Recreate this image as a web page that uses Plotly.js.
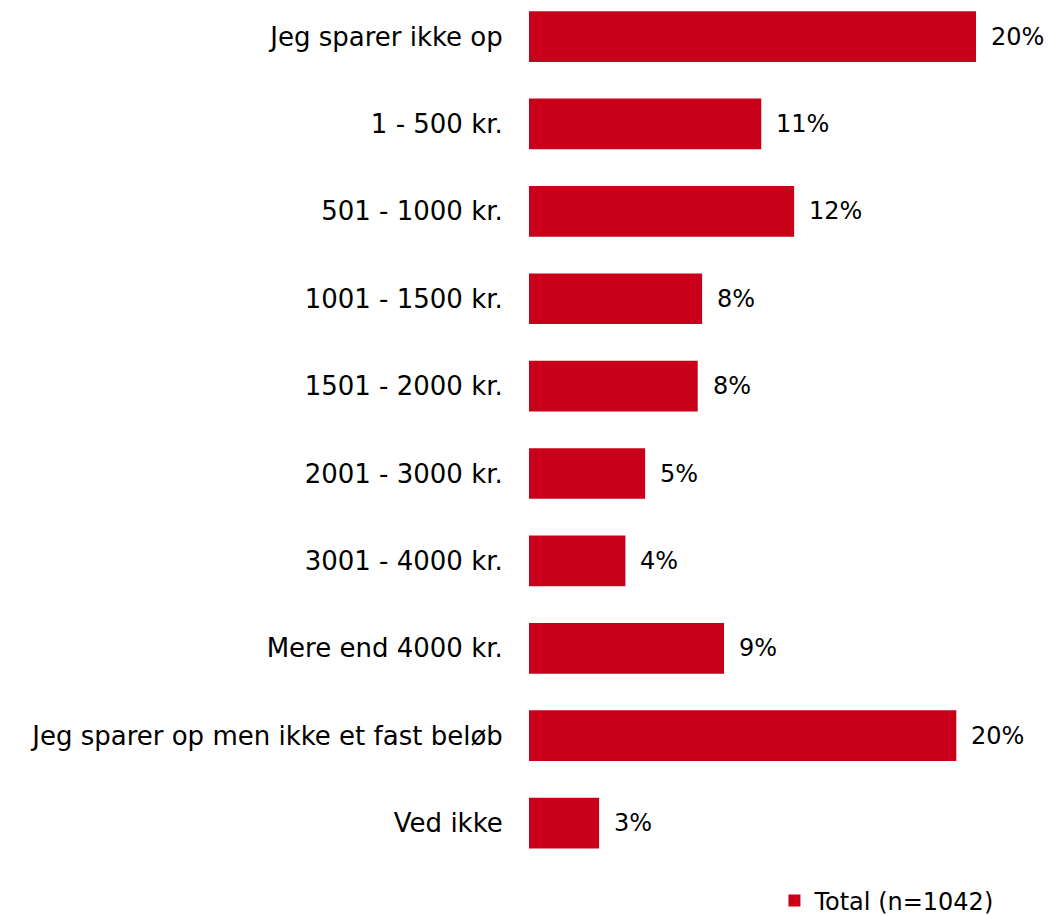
<!DOCTYPE html>
<html><head><meta charset="utf-8">
<script src="https://cdn.plot.ly/plotly-3.0.1.min.js"></script>
<style>html,body{margin:0;padding:0;background:#fff}#chart{width:1053px;height:916px}</style>
</head><body><div id="chart"></div>
<script>
const categories = ["Jeg sparer ikke op","1 - 500 kr.","501 - 1000 kr.","1001 - 1500 kr.","1501 - 2000 kr.","2001 - 3000 kr.","3001 - 4000 kr.","Mere end 4000 kr.","Jeg sparer op men ikke et fast beløb","Ved ikke"];
const values = [20.4, 10.6, 12.1, 7.9, 7.7, 5.3, 4.4, 8.9, 19.5, 3.2];
const valueLabels = ["20%","11%","12%","8%","8%","5%","4%","9%","20%","3%"];
const seriesName = "Total (n=1042)";
const barColor = "#C8001A";
const fontFam = "DejaVu Sans, Verdana, sans-serif";

const trace = {
  type: 'bar', orientation: 'h',
  x: values, y: categories,
  marker: {color: barColor},
  name: seriesName, showlegend: true,
  hoverinfo: 'none'
};
const annotations = values.map((v, i) => ({
  x: v, y: categories[i], xref: 'x', yref: 'y',
  text: valueLabels[i], showarrow: false,
  xanchor: 'left', xshift: 13,
  font: {family: fontFam, size: 24, color: '#000'}
}));
const layout = {
  width: 1053, height: 916,
  margin: {l: 529, r: 20, t: 0, b: 0, autoexpand: false},
  paper_bgcolor: '#fff', plot_bgcolor: '#fff',
  bargap: 0.42,
  font: {family: fontFam, color: '#000'},
  xaxis: {range: [0, 23], visible: false, fixedrange: true},
  yaxis: {
    type: 'category', categoryarray: categories, categoryorder: 'array',
    range: [10.063, -0.418], showgrid: false, zeroline: false, showline: false,
    ticks: 'outside', ticklen: 20, tickcolor: 'rgba(0,0,0,0)',
    tickfont: {family: fontFam, size: 26, color: '#000'}
  },
  showlegend: true,
  legend: {orientation: 'h', x: 0.487, xanchor: 'left', y: -0.008, yanchor: 'bottom',
    font: {family: fontFam, size: 24, color: '#000'}, itemwidth: 30, bgcolor: 'rgba(0,0,0,0)'},
  annotations: annotations
};
Plotly.newPlot('chart', [trace], layout, {displayModeBar: false, staticPlot: true});
</script></body></html>
